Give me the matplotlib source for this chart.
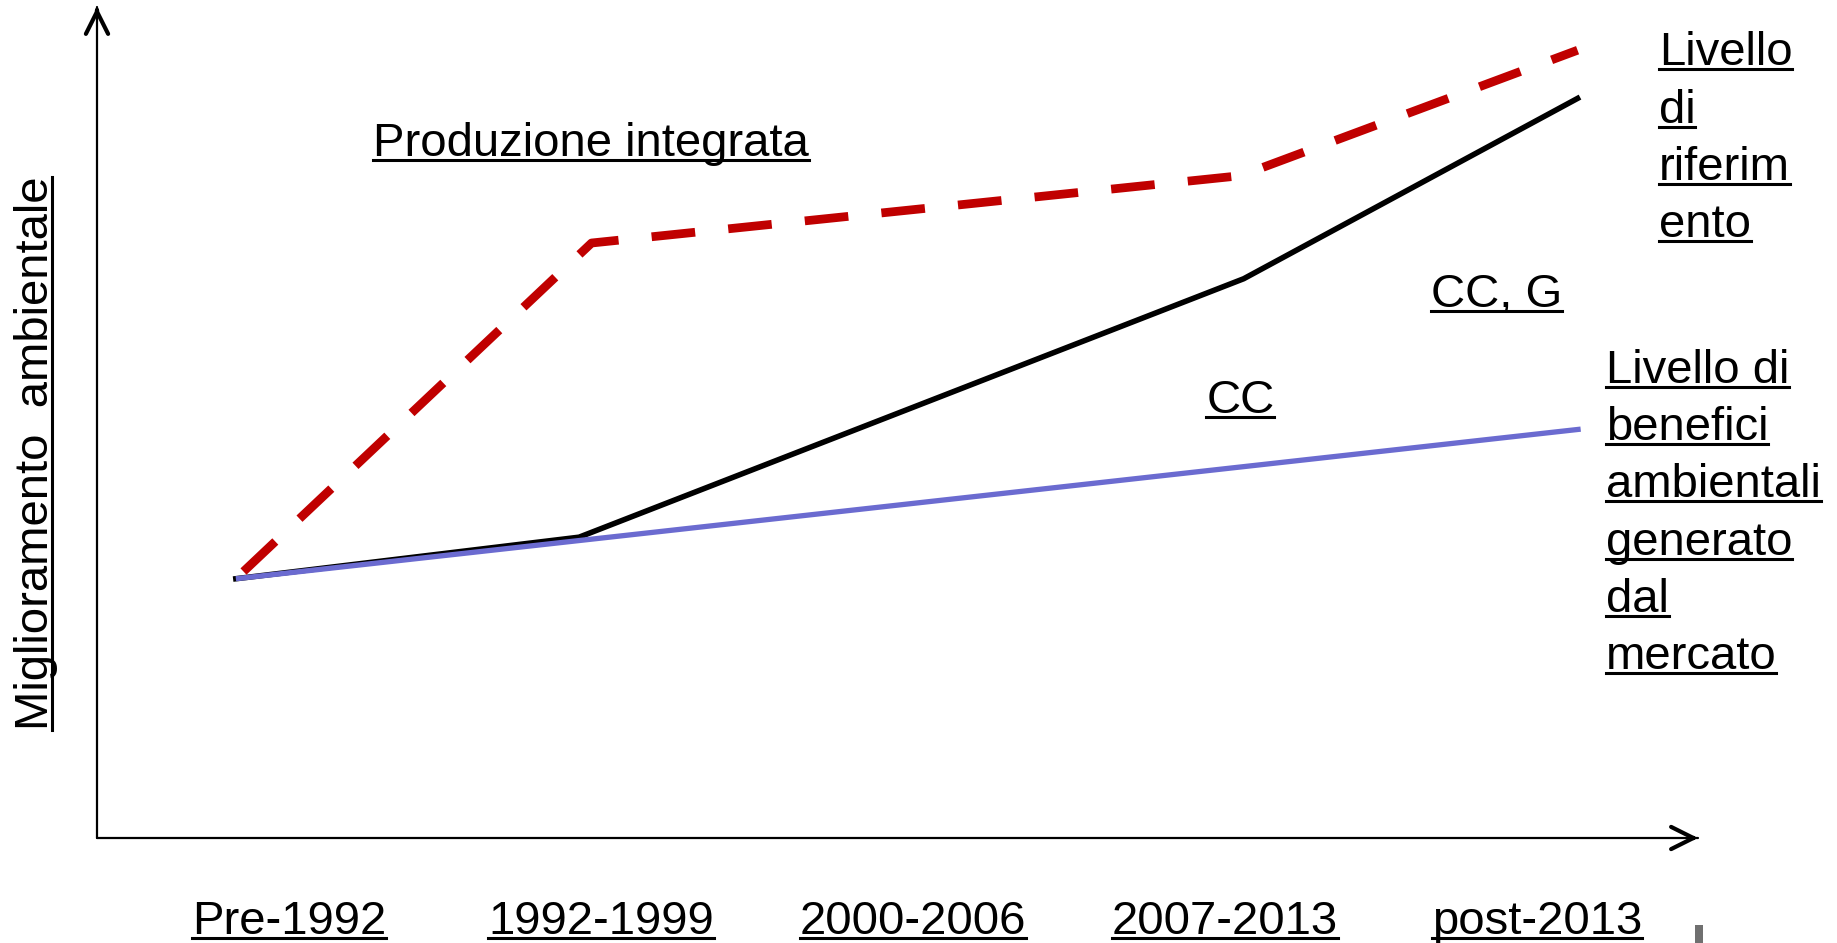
import numpy as np
import matplotlib
matplotlib.use("Agg")
import matplotlib.pyplot as plt
from matplotlib.lines import Line2D
from matplotlib.patches import Rectangle
from matplotlib.transforms import IdentityTransform, blended_transform_factory

plt.rcParams['font.family'] = ['Liberation Sans', 'DejaVu Sans']

#---------------------------------------------------------------
# Dati (x = indice del periodo, y = livello di miglioramento 0-100)
#---------------------------------------------------------------
periodi = ["Pre-1992", "1992-1999", "2000-2006", "2007-2013", "post-2013"]

# livello di riferimento (linea nera)
x_rif = [-0.17, 0.93, 3.06, 4.13]
y_rif = [31.2, 36.2, 67.3, 89.0]

# produzione integrata (linea rossa tratteggiata)
x_pi = [-0.17, 0.97, 3.05, 4.13]
y_pi = [31.2, 71.6, 79.7, 94.8]

# benefici ambientali generati dal mercato (linea blu)
x_mer = [-0.17, 4.14]
y_mer = [31.2, 49.2]

# etichette nel grafico
testi = [("Produzione integrata", 0.27, 82.1),
         ("CC, G", 3.66, 63.9),
         ("CC", 2.94, 51.1)]
righe_rif = ["Livello", "di", "riferim", "ento"]
righe_mer = ["Livello di", "benefici", "ambientali", "generato", "dal", "mercato"]
passo = 6.9   # interlinea in unita' y

#---------------------------------------------------------------
# Figura
#---------------------------------------------------------------
W, H = 1837, 943
fig = plt.figure(figsize=(W/100, H/100), dpi=100)
ax = fig.add_axes([97/W, 105/H, 1601/W, 831/H])
ax.set_xlim(-0.615, 4.516)
ax.set_ylim(0, 100)
ax.set_axis_off()

ax.plot(x_rif, y_rif, color='black', lw=4.0)
ax.plot(x_mer, y_mer, color='#6B6BD0', lw=3.8, solid_capstyle='butt')
ax.plot(x_pi, y_pi, color='#C00000', lw=6.3, linestyle=(7.6, (5.0, 3.8)))

# assi con frecce
for xy in [(1, 0), (0, 1)]:
    ax.annotate('', xy=xy, xytext=(0, 0), xycoords='axes fraction',
                arrowprops=dict(arrowstyle='-', lw=1.6, color='k', shrinkA=0, shrinkB=0))
    xt = (xy[0]*0.995, xy[1]*0.995)
    ax.annotate('', xy=xy, xytext=xt, xycoords='axes fraction',
                arrowprops=dict(arrowstyle='->,head_length=1.6,head_width=0.8',
                                lw=3.0, color='k', shrinkA=0, shrinkB=0))

fs = 34
oggetti = []
for s, x, y in testi:
    oggetti.append(ax.text(x, y, s, fontsize=fs, ha='left', va='baseline'))
for k, s in enumerate(righe_rif):
    oggetti.append(ax.text(4.39, 93.0 - k*passo, s, fontsize=fs, ha='left', va='baseline', clip_on=False))
for k, s in enumerate(righe_mer):
    oggetti.append(ax.text(4.22, 54.8 - k*passo, s, fontsize=fs, ha='left', va='baseline', clip_on=False))

trans = blended_transform_factory(ax.transData, fig.transFigure)
for i, p in enumerate(periodi):
    oggetti.append(ax.text(i, 9/H, p, fontsize=fs, ha='center', va='baseline', transform=trans))

ylab = fig.text(48/W, 213/H, "Miglioramento  ambientale", fontsize=fs, rotation=90,
                rotation_mode='anchor', ha='left', va='baseline')

# piccolo segno grigio in basso a destra
fig.add_artist(Rectangle((1695/W, 0), 8/W, 18/H, transform=fig.transFigure,
                         color='#707070', lw=0))

#---------------------------------------------------------------
# Sottolineature
#---------------------------------------------------------------
fig.canvas.draw()
r = fig.canvas.get_renderer()
for t in oggetti:
    bb = t.get_window_extent(r)
    xb, yb = t.get_transform().transform(t.get_position())
    fig.add_artist(Line2D([bb.x0, bb.x1], [yb-4, yb-4], transform=IdentityTransform(),
                          color='k', lw=2.2))
bb = ylab.get_window_extent(r)
xb, yb = ylab.get_transform().transform(ylab.get_position())
fig.add_artist(Line2D([xb+4, xb+4], [bb.y0, bb.y1], transform=IdentityTransform(),
                      color='k', lw=2.2))

fig.savefig("out.png", dpi=100)
